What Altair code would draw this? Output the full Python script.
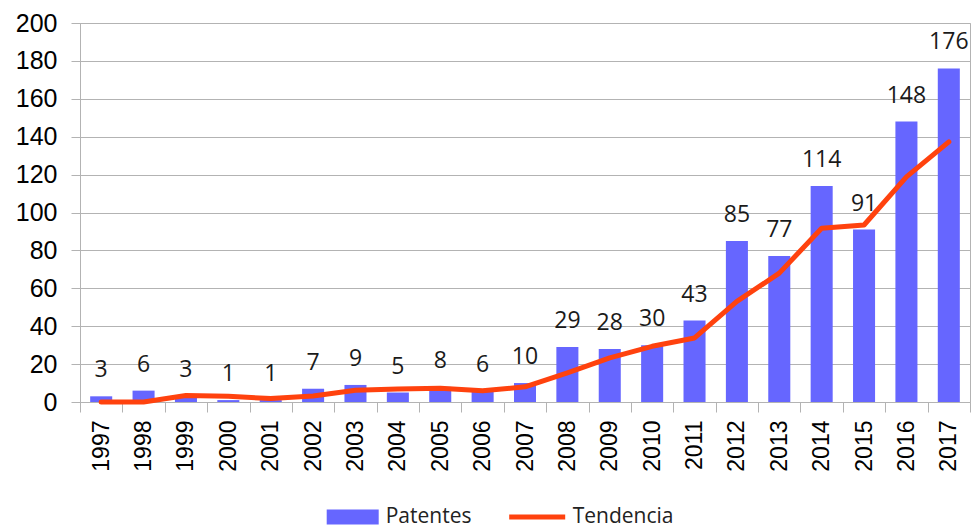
import altair as alt
import pandas as pd

# Patent counts per year and the trend line drawn over them
years = [str(y) for y in range(1997, 2018)]
patentes = [3, 6, 3, 1, 1, 7, 9, 5, 8, 6, 10, 29, 28, 30, 43, 85, 77, 114, 91, 148, 176]
tendencia = [0, 0, 3.4, 3.0, 1.8, 3.2, 6.2, 6.9, 7.3, 5.9, 8.0, 15.4, 23.3, 29.4,
             33.8, 53.1, 68.0, 91.7, 93.4, 118.8, 137.3]
y_ticks = list(range(0, 201, 20))

BAR_COLOR = "#6666ff"
LINE_COLOR = "#ff420e"
GRID = "#b3b3b3"

df = pd.DataFrame({"year": years, "patentes": patentes, "tendencia": tendencia})

x_enc = alt.X(
    "year:O",
    scale=alt.Scale(paddingInner=0, paddingOuter=0),
    axis=alt.Axis(
        title=None,
        labelAngle=270,
        tickBand="extent",
        tickSize=10,
        tickColor=GRID,
        domainColor=GRID,
        labelPadding=8,
        labelFont="Liberation Sans",
        labelFontSize=23,
        labelColor="#000000",
        labelOverlap=False,
    ),
)

y_scale = alt.Scale(domain=[0, 200], nice=False)
y_axis = alt.Axis(
    title=None,
    values=y_ticks,
    tickCount=len(y_ticks),
    grid=True,
    gridColor=GRID,
    domainColor=GRID,
    tickColor=GRID,
    tickSize=9,
    labelPadding=14,
    labelFont="Liberation Sans",
    labelFontSize=25,
    labelColor="#000000",
    labelOverlap=False,
    labelBound=False,
)

base = alt.Chart(df).transform_calculate(
    serie="'Patentes'", serie2="'Tendencia'"
)

bars = base.mark_bar(width=alt.RelativeBandSize(0.52)).encode(
    x=x_enc,
    y=alt.Y("patentes:Q", scale=y_scale, axis=y_axis),
    color=alt.Color(
        "serie:N",
        scale=alt.Scale(domain=["Patentes"], range=[BAR_COLOR]),
        legend=alt.Legend(
            title=None,
            orient="none",
            legendX=246.7,
            legendY=468,
            padding=0,
            symbolType="M-1,-0.288H1V0.288H-1Z",
            symbolSize=2704,
            symbolStrokeWidth=0,
            symbolOpacity=1,
            labelOffset=7,
            labelFont="Open Sans",
            labelFontSize=21,
            labelColor="#222222",
        ),
    ),
)

labels = base.mark_text(
    baseline="alphabetic", dy=-19, font="Open Sans", fontSize=23, color="#1a1a1a"
).encode(
    x=x_enc,
    y=alt.Y("patentes:Q", scale=y_scale, axis=y_axis),
    text=alt.Text("patentes:Q"),
)

trend = base.mark_line(strokeWidth=5, strokeJoin="round", strokeCap="round").encode(
    x=x_enc,
    y=alt.Y("tendencia:Q", scale=y_scale, axis=y_axis),
    stroke=alt.Stroke(
        "serie2:N",
        scale=alt.Scale(domain=["Tendencia"], range=[LINE_COLOR]),
        legend=alt.Legend(
            title=None,
            orient="none",
            legendX=426.7,
            legendY=463.5,
            padding=0,
            symbolType="stroke",
            symbolSize=3136,
            symbolStrokeWidth=5,
            labelOffset=5,
            labelFont="Open Sans",
            labelFontSize=21,
            labelColor="#222222",
        ),
    ),
)

chart = (
    alt.layer(bars, trend, labels)
    .properties(
        width=890,
        height=379,
        autosize=alt.AutoSizeParams(type="none"),
        padding={"left": 80, "top": 23, "right": 3, "bottom": 127},
        background="white",
    )
    .configure_view(stroke=GRID, strokeWidth=1)
)

chart.save("out.html", embed_options={"renderer": "svg", "actions": False})
